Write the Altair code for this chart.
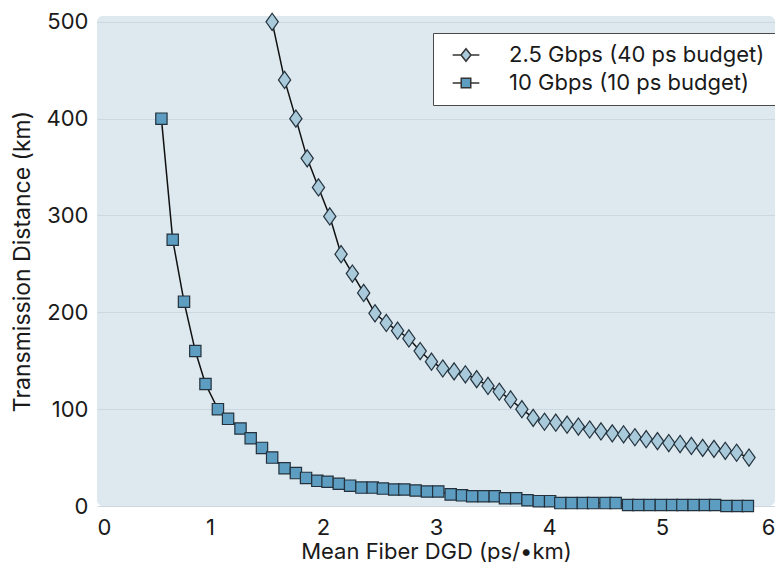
import altair as alt
import pandas as pd

series = ["2.5 Gbps (40 ps budget)", "10 Gbps (10 ps budget)"]

dia_x = [1.55, 1.66, 1.76, 1.86, 1.96, 2.06, 2.16, 2.26, 2.36, 2.46,
         2.56, 2.66, 2.76, 2.86, 2.96, 3.06, 3.16, 3.26, 3.36, 3.46,
         3.56, 3.66, 3.76, 3.86, 3.96, 4.06, 4.16, 4.26, 4.36, 4.46,
         4.56, 4.66, 4.76, 4.86, 4.96, 5.06, 5.16, 5.26, 5.36, 5.46,
         5.56, 5.66, 5.77]
dia_y = [500, 440, 400, 359, 329, 299, 260, 240, 220, 199,
         189, 181, 173, 160, 149, 142, 139, 136, 131, 124,
         118, 110, 100, 91, 87, 86, 84, 82, 79, 77,
         75, 74, 71, 69, 67, 65, 64, 62, 60, 59,
         57, 55, 50]

sq_x = [0.57, 0.67, 0.77, 0.87, 0.96, 1.07, 1.16, 1.27, 1.36, 1.46,
        1.55, 1.66, 1.76, 1.85, 1.95, 2.04, 2.14, 2.24, 2.34, 2.44,
        2.53, 2.63, 2.72, 2.82, 2.92, 3.02, 3.13, 3.23, 3.32, 3.42,
        3.52, 3.61, 3.71, 3.81, 3.91, 4.01, 4.10, 4.20, 4.30, 4.39,
        4.50, 4.59, 4.70, 4.79, 4.89, 4.99, 5.09, 5.18, 5.28, 5.38,
        5.47, 5.57, 5.67, 5.76]
sq_y = [400, 275, 211, 160, 126, 100, 90, 80, 70, 60,
        50, 39, 34, 29, 26, 25, 23, 21, 19, 19,
        18, 17, 17, 16, 15, 15, 12, 11, 10, 10,
        10, 8, 8, 6, 5, 5, 3, 3, 3, 3,
        3, 3, 1, 1, 1, 1, 1, 1, 1, 1,
        1, 0, 0, 0]

x_ticks = [0, 1, 2, 3, 4, 5, 6]
y_ticks = [0, 100, 200, 300, 400, 500]

fills = ["#a9cadb", "#5e9dc2"]
edge = "#23323d"
FONT = "Inter"

DIA = "M0,-1.4L1,0L0,1.4L-1,0Z"
LEG_DIA = "M-2.67,0L-1,0M1,0L2.67,0M0,-1.25L1,0L0,1.25L-1,0Z"
LEG_SQ = "M-2.67,0L-1,0M1,0L2.67,0M-0.95,-0.95L0.95,-0.95L0.95,0.95L-0.95,0.95Z"

df = pd.concat([
    pd.DataFrame({"x": dia_x, "y": dia_y, "series": series[0]}),
    pd.DataFrame({"x": sq_x, "y": sq_y, "series": series[1]}),
], ignore_index=True)

xenc = alt.X("x:Q", scale=alt.Scale(domain=[0, 6], nice=False, zero=True),
             axis=alt.Axis(values=x_ticks, title="Mean Fiber DGD (ps/•km)", grid=False,
                           labelPadding=11, titleY=45, titleBaseline="middle",
                           titleFontSize=22))
yenc = alt.Y("y:Q", scale=alt.Scale(domain=[0, 506], nice=False),
             axis=alt.Axis(values=y_ticks, title="Transmission Distance (km)", grid=True,
                           labelPadding=9, titleX=-75, titleBaseline="middle",
                           titleFontSize=23))

base = alt.Chart(df)

lines = base.mark_line(color="#111111", strokeWidth=1.5).encode(
    x=xenc, y=yenc, detail="series:N"
)

points = base.mark_point(filled=True, opacity=1, stroke=edge, strokeWidth=1.2).encode(
    x=xenc, y=yenc,
    shape=alt.Shape("series:N", scale=alt.Scale(domain=series, range=[DIA, "square"]), legend=None),
    color=alt.Color("series:N", scale=alt.Scale(domain=series, range=fills), legend=None),
    size=alt.Size("series:N", scale=alt.Scale(domain=series, range=[150, 128]), legend=None),
)

leg = alt.Legend(title=None, orient="none", legendX=336, legendY=17,
                 fillColor="white", strokeColor="#4a4a4a", padding=11,
                 labelFont=FONT, labelFontSize=22, labelColor="#1a1a1a",
                 labelOffset=32, symbolOffset=11, rowPadding=6, labelLimit=400)

legend_layer = base.transform_filter("false").mark_point(
    filled=True, opacity=1, stroke="#333333", strokeWidth=1.3, size=144
).encode(
    x=xenc, y=yenc,
    shape=alt.Shape("series:N", scale=alt.Scale(domain=series, range=[LEG_DIA, LEG_SQ]), legend=leg),
    color=alt.Color("series:N", scale=alt.Scale(domain=series, range=fills), legend=leg),
)

chart = alt.layer(lines, points, legend_layer).resolve_scale(
    shape="independent", color="independent", size="independent"
).properties(
    width=678, height=490,
    autosize=alt.AutoSizeParams(type="none"),
    padding={"left": 89, "top": 8, "right": 0, "bottom": 56},
    background="white",
).configure_view(
    fill="#dde8ef", stroke=None, cornerRadius=6
).configure_axis(
    domain=False, ticks=False,
    labelFont=FONT, labelFontSize=22, labelColor="#1a1a1a",
    titleFont=FONT, titleFontWeight="normal", titleColor="#1a1a1a",
    gridColor="#cbd8e1", gridWidth=1.2,
)

chart.save("out.html", embed_options={"renderer": "svg", "actions": False})
